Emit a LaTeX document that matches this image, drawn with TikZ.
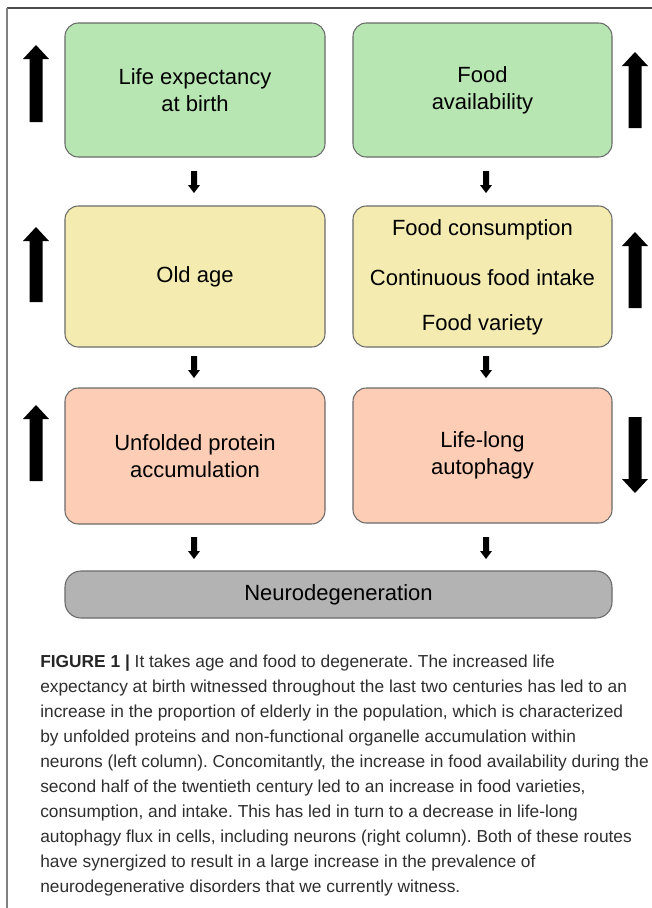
\documentclass[tikz,border=0pt]{standalone}
\usepackage{fontspec}
\setmainfont{Liberation Sans}
\frenchspacing
\definecolor{boxgreen}{HTML}{B8E6B2}
\definecolor{boxyellow}{HTML}{F4EBB1}
\definecolor{boxsalmon}{HTML}{FDCDB5}
\definecolor{boxgray}{HTML}{B3B3B3}
\definecolor{boxline}{HTML}{6A6A6A}
\definecolor{captext}{HTML}{2E2E2E}
\newcommand{\uparr}[3]{% x, ytip, ybottom
  \fill[black] (#1-6.5,#3) -- (#1+6.5,#3) -- (#1+6.5,#2+14) -- (#1+13,#2+14) -- (#1,#2) -- (#1-13,#2+14) -- (#1-6.5,#2+14) -- cycle;}
\newcommand{\downarr}[3]{% x, ytop, ytip
  \fill[black] (#1-6.5,#2) -- (#1+6.5,#2) -- (#1+6.5,#3-14) -- (#1+13,#3-14) -- (#1,#3) -- (#1-13,#3-14) -- (#1-6.5,#3-14) -- cycle;}
\newcommand{\smallarr}[3]{% x, ytop, ytip
  \fill[black] (#1-3,#2) -- (#1+3,#2) -- (#1+3,#3-8) -- (#1+6,#3-8) -- (#1,#3) -- (#1-6,#3-8) -- (#1-3,#3-8) -- cycle;}
\begin{document}
\begin{tikzpicture}[x=0.75pt,y=-0.75pt,
  stage/.style={draw=boxline, line width=0.8pt, rounded corners=10pt, align=center,
    font=\fontsize{16.5pt}{20.25pt}\selectfont, text=black, inner sep=0pt},
  capline/.style={anchor=base west, inner sep=0pt, text=captext,
    font=\fontsize{13pt}{18.75pt}\selectfont}]
\useasboundingbox (0,0) rectangle (652,908);
% frame
\draw[color=black!70, line width=1.1pt] (7,8) -- (652,8);
\draw[color=black!50, line width=1.1pt] (7,8) -- (7,908);
% boxes
\node[stage, fill=boxgreen, minimum width={260*0.75pt}, minimum height={134*0.75pt}] (life) at (195,90) {Life expectancy\\at birth};
\node[stage, fill=boxgreen, minimum width={259*0.75pt}, minimum height={134*0.75pt}] (food) at (482.5,90) {Food\\availability};
\node[stage, fill=boxyellow, minimum width={260*0.75pt}, minimum height={141*0.75pt}] (old) at (195,276.5) {Old age};
\node[stage, fill=boxyellow, minimum width={259*0.75pt}, minimum height={141*0.75pt}] (cons) at (482.5,276.5) {};
\node[font=\fontsize{16.5pt}{20.25pt}\selectfont, inner sep=0pt] (c1) at (482.5,230) {Food consumption};
\node[font=\fontsize{16.5pt}{20.25pt}\selectfont, inner sep=0pt] (c2) at (482.5,278) {Continuous food intake};
\node[font=\fontsize{16.5pt}{20.25pt}\selectfont, inner sep=0pt] (c3) at (482.5,325) {Food variety};
\node[stage, fill=boxsalmon, minimum width={260*0.75pt}, minimum height={136*0.75pt}] (unf) at (195,456) {Unfolded protein\\accumulation};
\node[stage, fill=boxsalmon, minimum width={259*0.75pt}, minimum height={135*0.75pt}] (auto) at (482.5,455.5) {Life-long\\autophagy};
\node[stage, fill=boxgray, rounded corners=12pt, minimum width={547*0.75pt}, minimum height={47*0.75pt}] (neuro) at (338.5,594.5) {Neurodegeneration};
% small connecting arrows
\smallarr{194}{171}{193}
\smallarr{486}{171}{193}
\smallarr{194}{356}{378}
\smallarr{486}{356}{378}
\smallarr{194}{537}{559}
\smallarr{486}{537}{559}
% big trend arrows
\uparr{36}{45}{122}
\uparr{635}{52}{128}
\uparr{36}{227}{302}
\uparr{635}{232}{308}
\uparr{36}{405}{481}
\downarr{635}{417}{493}
% caption
\node[capline] (l1) at (40,667) {{\bfseries\color{black!85}FIGURE 1 |} It takes age and food to degenerate. The increased life};
\node[capline] (l2) at (40,692) {expectancy at birth witnessed throughout the last two centuries has led to an};
\node[capline] (l3) at (40,717) {increase in the proportion of elderly in the population, which is characterized};
\node[capline] (l4) at (40,742) {by unfolded proteins and non-functional organelle accumulation within};
\node[capline] (l5) at (40,767) {neurons (left column). Concomitantly, the increase in food availability during the};
\node[capline] (l6) at (40,792) {second half of the twentieth century led to an increase in food varieties,};
\node[capline] (l7) at (40,817) {consumption, and intake. This has led in turn to a decrease in life-long};
\node[capline] (l8) at (40,842) {autophagy flux in cells, including neurons (right column). Both of these routes};
\node[capline] (l9) at (40,867) {have synergized to result in a large increase in the prevalence of};
\node[capline] (l10) at (40,892) {neurodegenerative disorders that we currently witness.};
\end{tikzpicture}
\end{document}
